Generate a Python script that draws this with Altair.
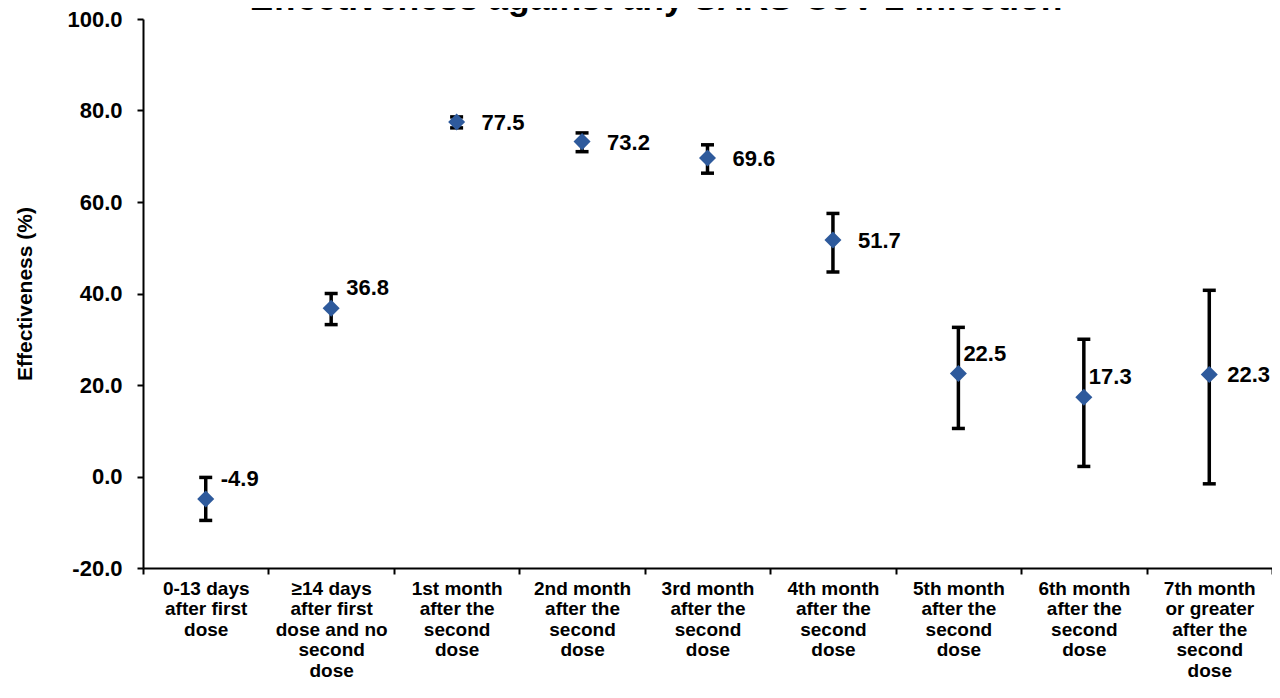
import altair as alt
import pandas as pd

# ---- data ----
categories = [
    "0-13 days\nafter first\ndose",
    "≥14 days\nafter first\ndose and no\nsecond\ndose",
    "1st month\nafter the\nsecond\ndose",
    "2nd month\nafter the\nsecond\ndose",
    "3rd month\nafter the\nsecond\ndose",
    "4th month\nafter the\nsecond\ndose",
    "5th month\nafter the\nsecond\ndose",
    "6th month\nafter the\nsecond\ndose",
    "7th month\nor greater\nafter the\nsecond\ndose",
]
effectiveness = [-4.9, 36.8, 77.5, 73.2, 69.6, 51.7, 22.5, 17.3, 22.3]
ci_lower = [-9.6, 33.2, 76.2, 71.0, 66.3, 44.7, 10.5, 2.2, -1.6]
ci_upper = [-0.2, 40.0, 78.6, 75.1, 72.5, 57.5, 32.6, 30.0, 40.7]
label_place = ["above", "above", "right", "right", "right", "right", "close", "close", "edge"]
y_ticks = [-20, 0, 20, 40, 60, 80, 100]
title_text = "Effectiveness against any SARS-CoV-2 infection"
y_title = "Effectiveness (%)"

df = pd.DataFrame({
    "cat": categories,
    "ve": effectiveness,
    "lo": ci_lower,
    "hi": ci_upper,
    "place": label_place,
})
df["lab"] = df["ve"].map(lambda v: f"{v:.1f}")

FONT = "Liberation Sans"
BLUE = "#2E5A9C"

x_enc = alt.X(
    "cat:N",
    sort=categories,
    scale=alt.Scale(paddingInner=0, paddingOuter=0),
    axis=alt.Axis(
        title=None,
        labelAngle=0,
        labelExpr="split(datum.label, '\\n')",
        labelFont=FONT,
        labelFontWeight="bold",
        labelFontSize=19,
        labelLineHeight=20.5,
        labelColor="black",
        labelPadding=5,
        labelLimit=0,
        labelOverlap=False,
        labelBaseline="top",
        tickBand="extent",
        tickSize=6,
        tickWidth=2,
        tickColor="black",
        domainColor="black",
        domainWidth=2,
        grid=False,
    ),
)
y_scale = alt.Scale(domain=[-20, 100], nice=False, zero=False)
y_enc = alt.Y(
    "ve:Q",
    scale=y_scale,
    axis=alt.Axis(
        title=y_title,
        titleFont=FONT,
        titleFontWeight="bold",
        titleFontSize=21,
        titleColor="black",
        titlePadding=31,
        values=y_ticks,
        labelExpr="replace(format(datum.value, '.1f'), '\u2212', '-')",
        labelFont=FONT,
        labelFontWeight="bold",
        labelFontSize=22,
        labelColor="black",
        labelPadding=15,
        tickSize=6,
        tickWidth=2,
        tickColor="black",
        domainColor="black",
        domainWidth=2,
        grid=False,
    ),
)

base = alt.Chart(df)

bars = base.mark_rule(color="black", strokeWidth=3.5, opacity=1).encode(
    x=x_enc,
    y=alt.Y("lo:Q", scale=y_scale),
    y2="hi:Q",
)
caps_lo = base.mark_tick(color="black", thickness=3.5, size=13, opacity=1).encode(
    x=alt.X("cat:N", sort=categories), y=alt.Y("lo:Q", scale=y_scale)
)
caps_hi = base.mark_tick(color="black", thickness=3.5, size=13, opacity=1).encode(
    x=alt.X("cat:N", sort=categories), y=alt.Y("hi:Q", scale=y_scale)
)
points = base.mark_point(shape="diamond", filled=True, size=290, color=BLUE, opacity=1).encode(
    x=alt.X("cat:N", sort=categories), y=y_enc
)

def labels(place, dx, dy):
    return base.transform_filter(alt.datum.place == place).mark_text(
        font=FONT, fontWeight="bold", fontSize=22, color="black",
        align="left", baseline="middle", dx=dx, dy=dy,
    ).encode(x=alt.X("cat:N", sort=categories), y=alt.Y("ve:Q", scale=y_scale), text="lab:N")

lab_above = labels("above", 15, -20)
lab_right = labels("right", 25, 1)
lab_close = labels("close", 5, -20)
lab_edge = labels("edge", 18, 1)

title = alt.Chart(pd.DataFrame({"t": [title_text]})).mark_text(
    font=FONT, fontWeight="bold", fontSize=35.5, color="black",
    align="center", baseline="alphabetic",
).encode(x=alt.value(513), y=alt.value(-9), text="t:N")

chart = alt.layer(
    bars, caps_lo, caps_hi, points, lab_above, lab_right, lab_close, lab_edge, title
).properties(
    width=1129,
    height=549,
    autosize=alt.AutoSizeParams(type="none"),
    padding={"left": 135, "top": 11, "right": 0, "bottom": 117},
).configure_view(stroke=None)

chart.save("out.html", embed_options={"renderer": "svg", "actions": False})
